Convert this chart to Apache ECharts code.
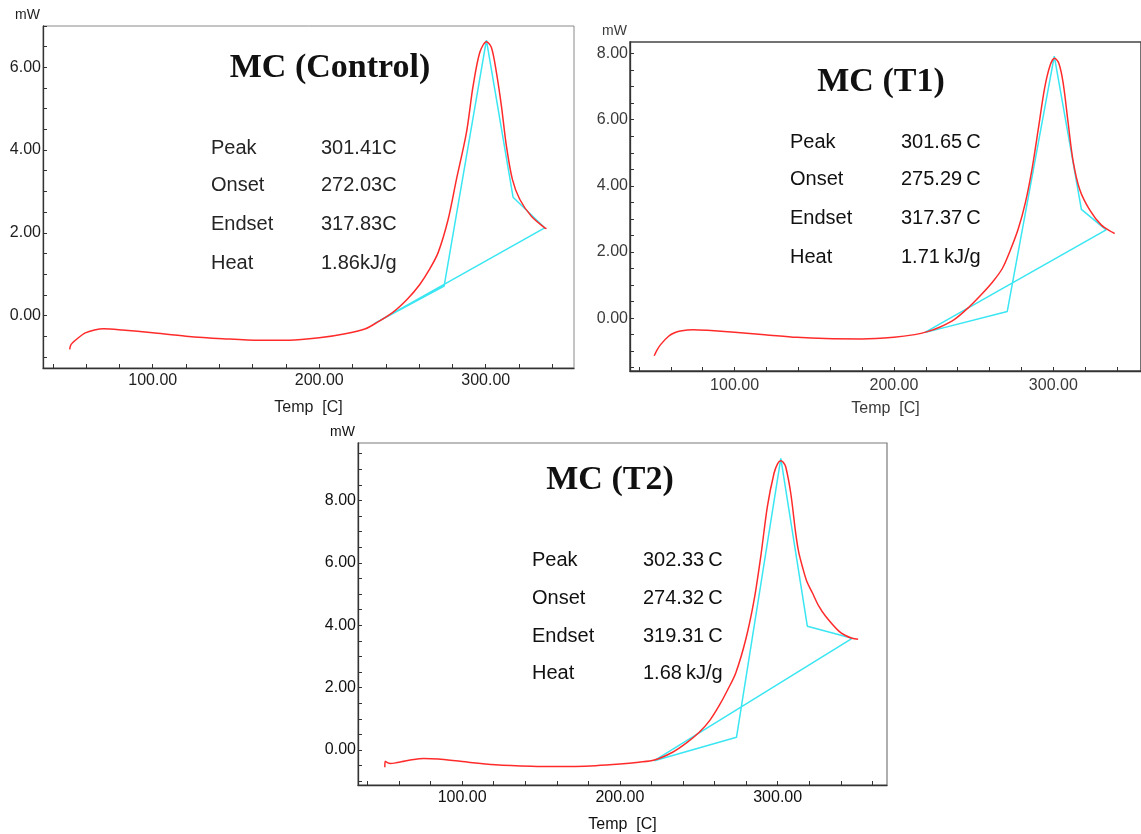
<!DOCTYPE html>
<html>
<head>
<meta charset="utf-8">
<script src="https://cdn.jsdelivr.net/npm/echarts@6.0.0/dist/echarts.min.js"></script>
<style>
  html, body { margin: 0; padding: 0; background: #ffffff; }
  #chart { width: 1141px; height: 834px; }
</style>
</head>
<body>
<div id="chart"></div>
<script>
// ---------- DATA ----------
// Panel titles
const panelTitles = ['MC (Control)', 'MC (T1)', 'MC (T2)'];
const statNames = ['Peak', 'Onset', 'Endset', 'Heat'];
const ctrlStats = ['301.41C', '272.03C', '317.83C', '1.86kJ/g'];
const t1Stats = ['301.65\u2009C', '275.29\u2009C', '317.37\u2009C', '1.71\u2009kJ/g'];
const t2Stats = ['302.33\u2009C', '274.32\u2009C', '319.31\u2009C', '1.68\u2009kJ/g'];

// Tick values
const xLabelValues = [100, 200, 300];
const xTickValuesA = [40, 60, 80, 100, 120, 140, 160, 180, 200, 220, 240, 260, 280, 300, 320, 340];
const xTickValuesB = [40, 60, 80, 100, 120, 140, 160, 180, 200, 220, 240, 260, 280, 300, 320, 340, 360];
const ctrlYLabels = [0, 2, 4, 6];
const ctrlYTicks = [-1, -0.5, 0, 0.5, 1, 1.5, 2, 2.5, 3, 3.5, 4, 4.5, 5, 5.5, 6, 6.5, 7];
const t1YLabels = [0, 2, 4, 6, 8];
const t1YTicks = [-1.5, -1, -0.5, 0, 0.5, 1, 1.5, 2, 2.5, 3, 3.5, 4, 4.5, 5, 5.5, 6, 6.5, 7, 7.5, 8];
const t2YLabels = [0, 2, 4, 6, 8];
const t2YTicks = [-1, -0.5, 0, 0.5, 1, 1.5, 2, 2.5, 3, 3.5, 4, 4.5, 5, 5.5, 6, 6.5, 7, 7.5, 8, 8.5, 9, 9.5];

// MC (Control) DSC curve: temperature [C], heat flow [mW]
const ctrlTemp = [50.1, 51, 55, 59.5, 65, 70.6, 81.7, 100, 120, 142, 164, 182, 200, 215.6, 227.8, 233.4, 244, 253, 260.4, 266, 271.4, 277.4, 282.4, 288.4, 292.4, 296.4, 300.4, 303.4, 306.4, 309.4, 312.4, 316, 320.4, 327.4, 335.4, 336.5];
const ctrlHeat = [-0.82, -0.70, -0.55, -0.42, -0.35, -0.32, -0.35, -0.42, -0.50, -0.56, -0.60, -0.60, -0.54, -0.44, -0.32, -0.20, 0.07, 0.40, 0.75, 1.10, 1.52, 2.32, 3.29, 4.42, 5.55, 6.36, 6.62, 6.48, 5.88, 5.07, 4.10, 3.29, 2.81, 2.40, 2.12, 2.10];
// Onset/endset construction + baseline (cyan)
const ctrlConstrTemp = [233.3, 275.0, 300.4, 316.4, 335.4, 233.3];
const ctrlConstrHeat = [-0.19, 0.71, 6.66, 2.86, 2.12, -0.19];

// MC (T1)
const t1Temp = [49.6, 51.5, 54, 58.6, 62, 66, 74, 83, 100, 119, 139, 157, 180, 200, 213, 221, 229, 238, 247, 255, 262, 268, 273, 278, 282.5, 286.6, 290.5, 294.5, 298, 300.8, 303.5, 306.2, 309.3, 312.4, 316.6, 322.8, 330, 337.2, 338.5];
const t1Heat = [-1.14, -0.95, -0.78, -0.55, -0.45, -0.39, -0.35, -0.37, -0.43, -0.50, -0.58, -0.62, -0.63, -0.58, -0.50, -0.41, -0.27, -0.04, 0.33, 0.72, 1.10, 1.50, 2.05, 2.70, 3.50, 4.50, 5.70, 6.95, 7.65, 7.86, 7.70, 7.10, 5.90, 4.75, 3.88, 3.27, 2.82, 2.59, 2.56];
const t1ConstrTemp = [219.2, 271.1, 300.6, 317.6, 333.1, 219.2];
const t1ConstrHeat = [-0.44, 0.20, 7.92, 3.29, 2.67, -0.44];

// MC (T2)
const t2Temp = [51, 51.2, 52.5, 54.5, 58, 62, 68, 75.8, 84.8, 100, 121, 144, 162, 184.5, 200, 212, 221.8, 233.4, 242, 250.3, 257, 262.9, 268, 273.5, 279.8, 285.1, 289.3, 293.5, 297.7, 300, 302, 303.5, 305.1, 308.3, 311.4, 313.3, 315.6, 318.5, 322, 326, 330.4, 338.8, 343, 347.2, 351];
const t2Heat = [-0.55, -0.36, -0.40, -0.43, -0.41, -0.37, -0.31, -0.27, -0.29, -0.37, -0.47, -0.52, -0.53, -0.50, -0.45, -0.39, -0.32, -0.07, 0.22, 0.57, 0.95, 1.42, 1.90, 2.48, 3.55, 4.82, 6.21, 7.81, 8.87, 9.18, 9.27, 9.22, 9.08, 8.23, 6.96, 6.35, 5.89, 5.40, 5.04, 4.62, 4.29, 3.81, 3.67, 3.58, 3.55];
const t2ConstrTemp = [221.8, 273.9, 302.0, 318.8, 347.2, 221.8];
const t2ConstrHeat = [-0.34, 0.41, 9.35, 3.97, 3.58, -0.34];

// ---------- CHART ----------
const RED = '#ff2b2b';
const CYAN = '#3ae6f2';
const zip = (a, b) => a.map((v, i) => [v, b[i]]);

const grids = [
  { left: 43, top: 26, width: 531, height: 342, show: true, borderColor: '#8a8a8a', borderWidth: 1 },
  { left: 630, top: 42, width: 517, height: 329, show: true, borderColor: '#444', borderWidth: 1.5 },
  { left: 358, top: 443, width: 529, height: 343, show: true, borderColor: '#7a7a7a', borderWidth: 1.2 }
];
const xRanges = [[34.1, 353], [34.4, 355], [34, 369.3]];
const yRanges = [[-1.27, 7.0], [-1.6, 8.35], [-1.12, 9.84]];
const xTicks = [xTickValuesA, xTickValuesA, xTickValuesB];
const yLabels = [ctrlYLabels, t1YLabels, t2YLabels];
const yTicks = [ctrlYTicks, t1YTicks, t2YTicks];
const labelColors = ['#1e1e1e', '#3a3a3a', '#111'];
const nameGaps = [32, 30, 32];

const xAxes = [0, 1, 2].map(i => ({
  type: 'value', gridIndex: i, min: xRanges[i][0], max: xRanges[i][1],
  splitLine: { show: false },
  axisLine: { show: true, onZero: false, lineStyle: { color: '#333', width: 1.3 } },
  axisTick: { show: true, inside: true, length: 4, customValues: xTicks[i], lineStyle: { color: '#333' } },
  axisLabel: { show: true, customValues: xLabelValues, margin: i === 1 ? 7 : 5,
    formatter: v => v.toFixed(2), color: labelColors[i], fontSize: 16, fontFamily: 'Liberation Sans, Arial, sans-serif' },
  name: 'Temp  [C]', nameLocation: 'middle', nameGap: nameGaps[i],
  nameTextStyle: { color: labelColors[i], fontSize: 16, fontFamily: 'Liberation Sans, Arial, sans-serif' }
}));
const yAxes = [0, 1, 2].map(i => ({
  type: 'value', gridIndex: i, min: yRanges[i][0], max: yRanges[i][1],
  splitLine: { show: false },
  axisLine: { show: true, onZero: false, lineStyle: { color: '#333', width: 1.3 } },
  axisTick: { show: true, inside: true, length: 4, customValues: yTicks[i], lineStyle: { color: '#333' } },
  axisLabel: { show: true, customValues: yLabels[i], margin: 2,
    formatter: v => v.toFixed(2), color: labelColors[i], fontSize: 16, fontFamily: 'Liberation Sans, Arial, sans-serif' },
  name: 'mW', nameLocation: 'end', nameGap: 4,
  nameTextStyle: { color: labelColors[i], fontSize: 14, align: 'right', padding: [0, 3, 0, 0], fontFamily: 'Liberation Sans, Arial, sans-serif' }
}));

const curveSets = [
  [ctrlTemp, ctrlHeat, ctrlConstrTemp, ctrlConstrHeat],
  [t1Temp, t1Heat, t1ConstrTemp, t1ConstrHeat],
  [t2Temp, t2Heat, t2ConstrTemp, t2ConstrHeat]
];
const series = [];
curveSets.forEach((s, i) => {
  series.push({
    type: 'line', name: 'construction ' + i, xAxisIndex: i, yAxisIndex: i,
    data: zip(s[2], s[3]), showSymbol: false, smooth: false,
    lineStyle: { color: CYAN, width: 1.5 }, z: 2
  });
  series.push({
    type: 'line', name: 'DSC ' + i, xAxisIndex: i, yAxisIndex: i,
    data: zip(s[0], s[1]), showSymbol: false, smooth: 0.3,
    lineStyle: { color: RED, width: 1.5 }, z: 3
  });
});

// Titles and stat tables as text
const titlePos = [[330, 68], [881, 82], [610, 480]];
const statLeft = [[211, 321], [790, 901], [532, 643]];
const statY = [[148, 185, 224, 263], [142, 179, 218, 257], [560, 598, 636, 673]];
const statVals = [ctrlStats, t1Stats, t2Stats];
const statColors = ['#252525', '#111', '#111'];
const graphic = [];
panelTitles.forEach((t, i) => {
  graphic.push({ type: 'text', x: titlePos[i][0], y: titlePos[i][1], z: 10,
    style: { text: t, fill: '#111', font: 'bold 34px "Liberation Serif", "Times New Roman", serif',
      textAlign: 'center', textVerticalAlign: 'middle' } });
  statNames.forEach((n, r) => {
    graphic.push({ type: 'text', x: statLeft[i][0], y: statY[i][r], z: 10,
      style: { text: n, fill: statColors[i], font: '20px "Liberation Sans", Arial, sans-serif', textVerticalAlign: 'middle' } });
    graphic.push({ type: 'text', x: statLeft[i][1], y: statY[i][r], z: 10,
      style: { text: statVals[i][r], fill: statColors[i], font: '20px "Liberation Sans", Arial, sans-serif', textVerticalAlign: 'middle' } });
  });
});

const chart = echarts.init(document.getElementById('chart'), null, { renderer: 'canvas' });
chart.setOption({
  backgroundColor: '#ffffff',
  animation: false,
  grid: grids,
  xAxis: xAxes,
  yAxis: yAxes,
  series: series,
  graphic: graphic
});
</script>
</body>
</html>
